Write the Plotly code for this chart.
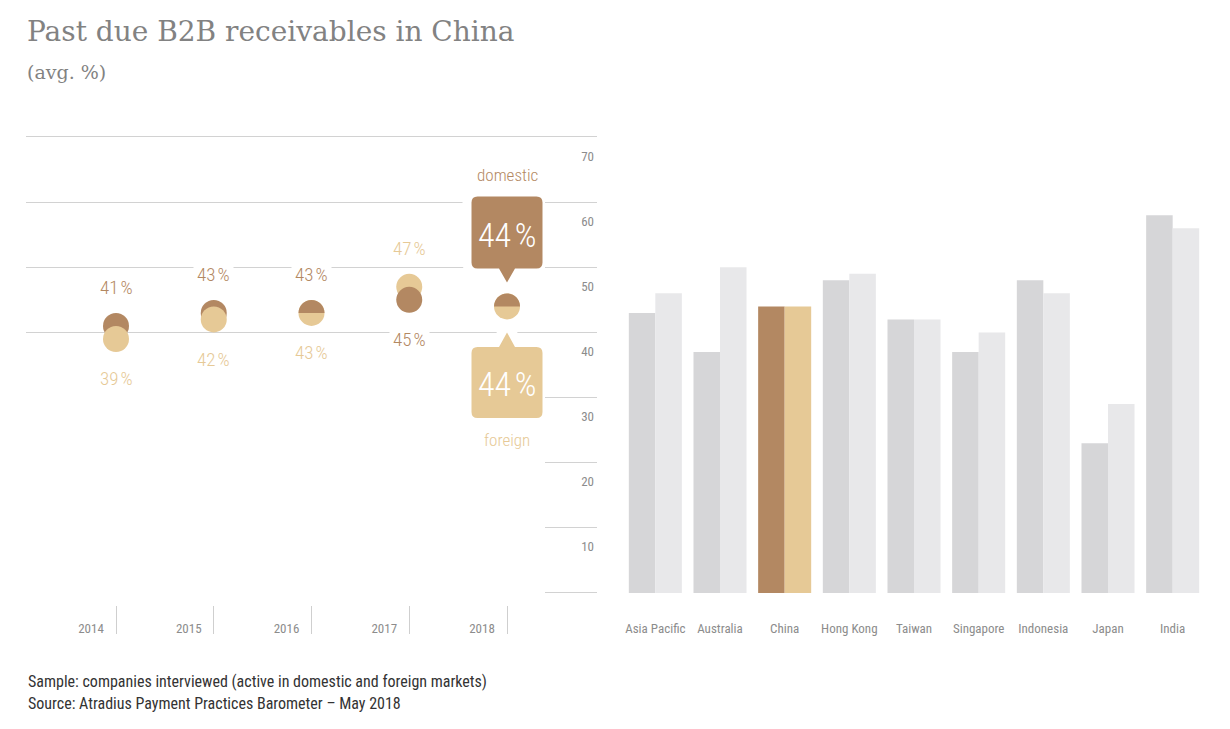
import plotly.graph_objects as go

# ---------------- data ----------------
years = [2014, 2015, 2016, 2017, 2018]
domestic = [41, 43, 43, 45, 44]
foreign = [39, 42, 43, 47, 44]

countries = ["Asia Pacific", "Australia", "China", "Hong Kong", "Taiwan",
             "Singapore", "Indonesia", "Japan", "India"]
country_domestic = [43, 37, 44, 48, 42, 37, 48, 23, 58]
country_foreign = [46, 50, 44, 49, 42, 40, 46, 29, 56]
highlight = "China"

y_ticks = [0, 10, 20, 30, 40, 50, 60, 70]
y_ticktext = ["", "10", "20", "30", "40", "50", "60", "70"]

title = "Past due B2B receivables in China"
subtitle = "(avg. %)"
footer1 = "Sample: companies interviewed (active in domestic and foreign markets)"
footer2 = "Source: Atradius Payment Practices Barometer \u2013 May 2018"

# ---------------- style ----------------
W, H = 1230, 729
BROWN = "#b38862"
TAN = "#e6c996"
GRAY_D = "#d6d6d8"
GRAY_F = "#e8e8ea"
GRID = "#d2d2d2"
TICK = "#8c8c8c"
NARROW = "'Roboto Condensed', 'Liberation Sans Narrow', 'Arial Narrow', 'DejaVu Sans Condensed', 'Liberation Sans', sans-serif"
SERIF = "'DejaVu Serif', serif"

def fx(px):
    return px / W

def fy(py):
    return (H - py) / H

# value scale: 0 -> 593 px, 70 -> 137 px; pad the range by 1 unit each side
unit = (593 - 137) / 70.0
Y_RANGE = [-1, 71]
y_dom = [fy(593 + unit), fy(137 - unit)]

fig = go.Figure()

# ---- dots: higher value behind, lower value in front ----
back_x, back_y, back_c = [], [], []
front_x, front_y, front_c = [], [], []
equal_years = []
for yr, d, f in zip(years, domestic, foreign):
    if d > f:
        back_x.append(yr); back_y.append(d); back_c.append(BROWN)
        front_x.append(yr); front_y.append(f); front_c.append(TAN)
    elif f > d:
        back_x.append(yr); back_y.append(f); back_c.append(TAN)
        front_x.append(yr); front_y.append(d); front_c.append(BROWN)
    else:
        front_x.append(yr); front_y.append(f); front_c.append(TAN)
        equal_years.append((yr, d))

fig.add_trace(go.Scatter(x=back_x, y=back_y, mode="markers", xaxis="x", yaxis="y",
                         marker=dict(size=26, color=back_c, line=dict(width=0)),
                         hoverinfo="skip", showlegend=False))
fig.add_trace(go.Scatter(x=front_x, y=front_y, mode="markers", xaxis="x", yaxis="y",
                         marker=dict(size=26, color=front_c, line=dict(width=0)),
                         hoverinfo="skip", showlegend=False))

# empty trace for the short gridline subplot
fig.add_trace(go.Scatter(x=[None], y=[None], xaxis="x2", yaxis="y2",
                         showlegend=False, hoverinfo="skip"))

# ---- bars ----
dom_colors = [BROWN if c == highlight else GRAY_D for c in countries]
for_colors = [TAN if c == highlight else GRAY_F for c in countries]
fig.add_trace(go.Bar(x=countries, y=country_domestic, xaxis="x3", yaxis="y3",
                     marker=dict(color=dom_colors, line=dict(width=0)),
                     hoverinfo="skip", showlegend=False))
fig.add_trace(go.Bar(x=countries, y=country_foreign, xaxis="x3", yaxis="y3",
                     marker=dict(color=for_colors, line=dict(width=0)),
                     hoverinfo="skip", showlegend=False))

shapes = []
annotations = []


def callout(left, right, top, bottom, tip, pw, r, down):
    if down:
        return (f"M {left + r},{top} L {right - r},{top} Q {right},{top} {right},{top - r} "
                f"L {right},{bottom + r} Q {right},{bottom} {right - r},{bottom} "
                f"L {pw},{bottom} L 0,{tip} L {-pw},{bottom} "
                f"L {left + r},{bottom} Q {left},{bottom} {left},{bottom + r} "
                f"L {left},{top - r} Q {left},{top} {left + r},{top} Z")
    return (f"M {left + r},{top} L {-pw},{top} L 0,{tip} L {pw},{top} "
            f"L {right - r},{top} Q {right},{top} {right},{top - r} "
            f"L {right},{bottom + r} Q {right},{bottom} {right - r},{bottom} "
            f"L {left + r},{bottom} Q {left},{bottom} {left},{bottom + r} "
            f"L {left},{top - r} Q {left},{top} {left + r},{top} Z")


last_year, last_d, last_f = years[-1], domestic[-1], foreign[-1]
p_dom = callout(-35.5, 35.5, 110, 38, 24, 8, 6, True)
p_for = callout(-35.5, 35.5, -40.5, -111.5, -26, 8, 6, False)
for p, v, col in [(p_dom, last_d, BROWN), (p_for, last_f, TAN)]:
    shapes.append(dict(type="path", xref="x", yref="y", xsizemode="pixel",
                       ysizemode="pixel", xanchor=last_year, yanchor=v, path=p,
                       fillcolor="white", line=dict(color="white", width=18),
                       layer="between"))
    shapes.append(dict(type="path", xref="x", yref="y", xsizemode="pixel",
                       ysizemode="pixel", xanchor=last_year, yanchor=v, path=p,
                       fillcolor=col, line=dict(width=0), layer="between"))

# half circles for equal values (domestic top half)
R = 13
k = 0.5523 * R
half_path = (f"M {-R},0 C {-R},{k} {-k},{R} 0,{R} "
             f"C {k},{R} {R},{k} {R},0 Z")
for yr, v in equal_years:
    shapes.append(dict(type="path", xref="x", yref="y", xsizemode="pixel",
                       ysizemode="pixel", xanchor=yr, yanchor=v, path=half_path,
                       fillcolor=BROWN, line=dict(width=0), layer="above"))

annotations.append(dict(x=last_year, y=last_d, xref="x", yref="y", yshift=71,
                        text=f"{last_d}\u200a%", showarrow=False,
                        font=dict(family=NARROW, size=34, color="white", weight=300)))
annotations.append(dict(x=last_year, y=last_f, xref="x", yref="y", yshift=-78,
                        text=f"{last_f}\u200a%", showarrow=False,
                        font=dict(family=NARROW, size=34, color="white", weight=300)))
annotations.append(dict(x=last_year, y=last_d, xref="x", yref="y", yshift=131,
                        text="domestic", showarrow=False,
                        font=dict(family=NARROW, size=17, color=BROWN, weight=300)))
annotations.append(dict(x=last_year, y=last_f, xref="x", yref="y", yshift=-134,
                        text="foreign", showarrow=False,
                        font=dict(family=NARROW, size=17, color=TAN, weight=300)))

# value labels for the other years
for yr, d, f in zip(years[:-1], domestic[:-1], foreign[:-1]):
    if d >= f:
        up, up_c, lo, lo_c = d, BROWN, f, TAN
    else:
        up, up_c, lo, lo_c = f, TAN, d, BROWN
    annotations.append(dict(x=yr, y=up, xref="x", yref="y", yshift=38,
                            text=f"{up}\u200a%", showarrow=False, bgcolor="white",
                            borderpad=3,
                            font=dict(family=NARROW, size=19, color=up_c, weight=300)))
    annotations.append(dict(x=yr, y=lo, xref="x", yref="y", yshift=-40,
                            text=f"{lo}\u200a%", showarrow=False, bgcolor="white",
                            borderpad=3,
                            font=dict(family=NARROW, size=19, color=lo_c, weight=300)))

# titles and footer
annotations += [
    dict(x=fx(25), y=fy(32), xref="paper", yref="paper", xanchor="left",
         yanchor="middle", text=title, showarrow=False,
         font=dict(family=SERIF, size=28, color="#828282")),
    dict(x=fx(25), y=fy(72), xref="paper", yref="paper", xanchor="left",
         yanchor="middle", text=subtitle, showarrow=False,
         font=dict(family=SERIF, size=19, color="#828282")),
    dict(x=fx(26), y=fy(681), xref="paper", yref="paper", xanchor="left",
         yanchor="middle", text=footer1, showarrow=False,
         font=dict(family=NARROW, size=16, color="#333333")),
    dict(x=fx(26), y=fy(703), xref="paper", yref="paper", xanchor="left",
         yanchor="middle", text=footer2, showarrow=False,
         font=dict(family=NARROW, size=16, color="#333333")),
]

pitch = (507 - 116) / 4.0
x_range = [years[0] - (116 - 26) / pitch, years[-1] + (597 - 507) / pitch]

fig.update_layout(
    width=W, height=H,
    margin=dict(l=0, r=0, t=0, b=0),
    paper_bgcolor="white", plot_bgcolor="white",
    showlegend=False,
    barmode="group", bargap=0.18, bargroupgap=0,
    shapes=shapes, annotations=annotations,
    xaxis=dict(domain=[fx(26), fx(597)], range=x_range, anchor="free",
               position=fy(605), tickvals=years, ticks="outside", ticklen=28,
               tickwidth=1, tickcolor="#cfcfcf", showgrid=False, zeroline=False,
               showline=False, ticklabelshift=-25, ticklabelstandoff=-17,
               tickfont=dict(family=NARROW, size=13, color=TICK), fixedrange=True),
    yaxis=dict(domain=y_dom, range=Y_RANGE, anchor="x", tickvals=y_ticks[4:],
               showticklabels=False, showgrid=True, gridcolor=GRID, gridwidth=1,
               zeroline=False, showline=False, ticks="", fixedrange=True),
    xaxis2=dict(domain=[fx(545), fx(597)], range=[0, 1], anchor="y2",
                visible=False, fixedrange=True),
    yaxis2=dict(domain=y_dom, range=Y_RANGE, anchor="x2", side="right",
                tickvals=y_ticks, ticktext=y_ticktext, ticklabelposition="inside",
                ticklabelshift=19, showgrid=True, gridcolor=GRID, gridwidth=1,
                zeroline=False, showline=False, ticks="",
                tickfont=dict(family=NARROW, size=13, color=TICK), fixedrange=True),
    xaxis3=dict(domain=[fx(623), fx(1205)], anchor="y3", type="category",
                ticks="outside", ticklen=17, tickcolor="rgba(0,0,0,0)",
                showgrid=False, zeroline=False, showline=False,
                tickfont=dict(family=NARROW, size=13, color=TICK), fixedrange=True),
    yaxis3=dict(domain=y_dom, range=Y_RANGE, anchor="x3", visible=False,
                fixedrange=True),
)

fig.write_html("out.html", config={"displayModeBar": False},
               post_script="document.body.style.margin='0';document.body.style.overflow='hidden';")
